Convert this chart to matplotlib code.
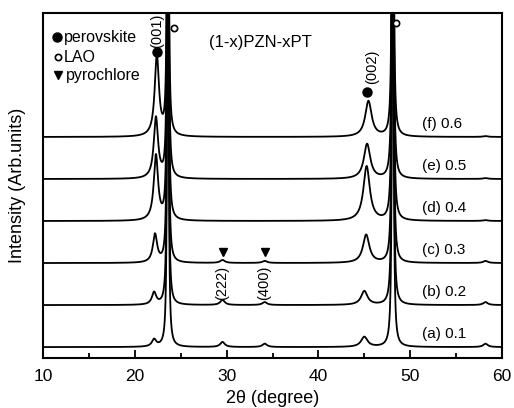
import numpy as np
import matplotlib
matplotlib.use("Agg")
import matplotlib.pyplot as plt

plt.rcParams["font.family"] = ["Liberation Sans", "DejaVu Sans"]

# one pattern per composition, bottom to top
labels = ["(a) 0.1", "(b) 0.2", "(c) 0.3", "(d) 0.4", "(e) 0.5", "(f) 0.6"]

# perovskite (001) / (002): position (deg) and height (1 unit = one stacking step)
p001_pos = [22.1, 22.1, 22.2, 22.3, 22.3, 22.4]
p001_h = [0.17, 0.29, 0.67, 1.55, 1.45, 1.92]
p002_pos = [45.0, 45.0, 45.2, 45.25, 45.3, 45.45]
p002_h = [0.24, 0.33, 0.67, 1.30, 0.83, 0.85]

# pyrochlore (222), (400) and the weak line near 58 deg
pyro222_h = [0.12, 0.12, 0.07, 0.0, 0.0, 0.0]
pyro400_h = [0.08, 0.07, 0.05, 0.0, 0.0, 0.0]
p58_h = [0.08, 0.07, 0.05, 0.02, 0.02, 0.02]

# LAO substrate lines, far off scale
lao_pos = [23.6, 48.1]
lao_h = 25.0

two_theta = np.arange(10, 60.001, 0.005)


def lorentz(x, x0, h, w):
    return h * w ** 2 / ((x - x0) ** 2 + w ** 2)


def pattern(i):
    y = lorentz(two_theta, p001_pos[i], p001_h[i], 0.28)
    y += lorentz(two_theta, p002_pos[i], p002_h[i], 0.42)
    y += lorentz(two_theta, 29.55, pyro222_h[i], 0.3)
    y += lorentz(two_theta, 34.15, pyro400_h[i], 0.3)
    y += lorentz(two_theta, 58.2, p58_h[i], 0.3)
    y += lorentz(two_theta, lao_pos[0], lao_h, 0.055)
    y += lorentz(two_theta, lao_pos[1], lao_h, 0.06)
    return y


fig = plt.figure(figsize=(5.14, 4.08), dpi=100)
ax = fig.add_axes([0.0837, 0.1225, 0.893, 0.8456])

for i, lab in enumerate(labels):
    ax.plot(two_theta, pattern(i) + i, color="black", linewidth=1.3)
    ax.text(51.3, i + 0.31, lab, fontsize=11, ha="left", va="center")

ax.set_xlim(10, 60)
ax.set_ylim(-0.26, 7.95)

# peak markers
ax.plot([p001_pos[-1], 45.3], [7.02, 6.07], "o", color="black", markersize=6.5)
ax.plot([24.3, 48.5], [7.6, 7.71], "o", mfc="white", mec="black", markersize=4.5, mew=1.2)
ax.plot([29.6, 34.2], [2.26, 2.26], "v", color="black", markersize=5.5)

ax.text(22.4, 7.52, "(001)", rotation=90, fontsize=10.5, ha="center", va="center")
ax.text(45.85, 6.67, "(002)", rotation=90, fontsize=10.5, ha="center", va="center")
ax.text(29.5, 1.52, "(222)", rotation=90, fontsize=10.5, ha="center", va="center")
ax.text(34.1, 1.52, "(400)", rotation=90, fontsize=10.5, ha="center", va="center")
ax.text(33.7, 7.24, "(1-x)PZN-xPT", fontsize=12, ha="center", va="center")

# legend drawn by hand
ax.plot([0.030], [0.930], "o", color="black", markersize=6.5, transform=ax.transAxes)
ax.text(0.045, 0.930, "perovskite", fontsize=11.5, va="center", transform=ax.transAxes)
ax.plot([0.033], [0.872], "o", mfc="white", mec="black", markersize=4.5, mew=1.2,
        transform=ax.transAxes)
ax.text(0.045, 0.872, "LAO", fontsize=11.5, va="center", transform=ax.transAxes)
ax.plot([0.033], [0.820], "v", color="black", markersize=5.5, transform=ax.transAxes)
ax.text(0.050, 0.820, "pyrochlore", fontsize=11.5, va="center", transform=ax.transAxes)

ax.set_xticks([10, 20, 30, 40, 50, 60])
ax.set_xticks([15, 25, 35, 45, 55], minor=True)
ax.set_yticks([])
ax.tick_params(axis="x", which="major", direction="in", length=6, width=1.3,
               labelsize=12.5, pad=8)
ax.tick_params(axis="x", which="minor", direction="in", length=3.5, width=1.3)
for s in ax.spines.values():
    s.set_linewidth(1.5)

ax.set_xlabel("2\u03b8 (degree)", fontsize=13, labelpad=4)
ax.set_ylabel("Intensity (Arb.units)", fontsize=13, labelpad=12)

fig.savefig("out.png", dpi=100)
